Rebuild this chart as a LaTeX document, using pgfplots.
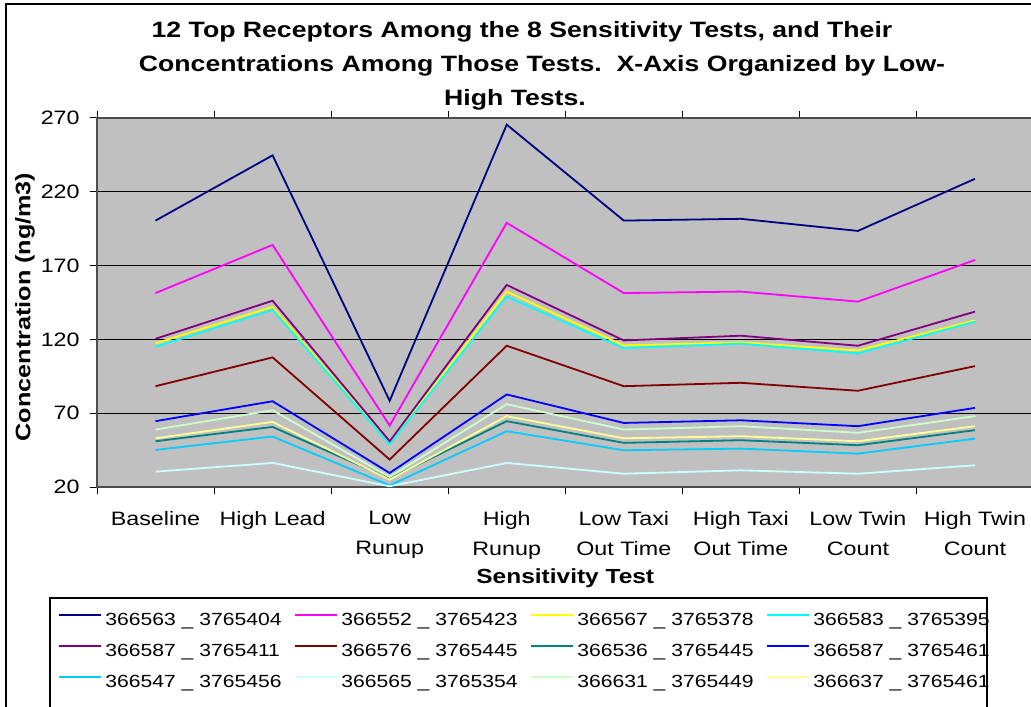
\documentclass[border=0pt]{standalone}
\usepackage{fontspec}
\setmainfont{Liberation Sans}[FakeStretch=1.2]
\usepackage{pgfplots}
\pgfplotsset{compat=1.18}
\usepackage{pgfplotstable}

\definecolor{c1}{HTML}{000080}
\definecolor{c2}{HTML}{FF00FF}
\definecolor{c3}{HTML}{FFFF00}
\definecolor{c4}{HTML}{00FFFF}
\definecolor{c5}{HTML}{800080}
\definecolor{c6}{HTML}{800000}
\definecolor{c7}{HTML}{008080}
\definecolor{c8}{HTML}{0000FF}
\definecolor{c9}{HTML}{00CCFF}
\definecolor{c10}{HTML}{CCFFFF}
\definecolor{c11}{HTML}{CCFFCC}
\definecolor{c12}{HTML}{FFFF99}
\definecolor{bggray}{HTML}{C0C0C0}

\pgfplotstableread{
x a b c d e f g h i j k l
0 200.5 151.4 117.3 115.0 120.4 88.3 51.0 64.6 45.1 30.4 58.9 53.0
1 244.7 184.0 142.0 140.0 146.2 107.8 60.7 78.1 54.2 36.3 72.0 64.1
2 78.4 61.6 49.4 49.0 51.0 38.6 25.7 29.5 21.1 20.5 26.8 25.0
3 265.5 199.0 152.4 149.0 156.9 115.7 64.6 82.7 57.8 36.3 76.1 68.0
4 200.5 151.4 115.9 114.1 119.3 88.3 49.9 63.4 44.9 29.0 58.9 53.0
5 201.7 152.4 118.0 117.1 122.5 90.6 51.7 65.2 46.0 31.3 61.2 54.4
6 193.5 145.6 112.5 110.5 115.7 85.2 48.3 61.2 42.6 29.0 56.7 51.0
7 228.8 173.8 132.9 132.0 138.8 101.9 58.5 73.6 52.8 34.7 68.0 61.2
}\data

\begin{document}
\begin{tikzpicture}
\useasboundingbox (0,0) rectangle (515.5pt,353pt);
\clip (0,0) rectangle (515.5pt,353pt);
\fill[white] (0,0) rectangle (515.5pt,353pt);
% outer chart frame
\draw[black, line width=0.9pt] (3pt,351pt) rectangle (530pt,-10pt);
% title lines
\node[anchor=base, font=\fontsize{11.1}{13}\selectfont\bfseries] at (261pt,334pt) {12 Top Receptors Among the 8 Sensitivity Tests, and Their};
\node[anchor=base, font=\fontsize{11.1}{13}\selectfont\bfseries] at (271pt,317pt) {Concentrations Among Those Tests.\ \ X-Axis Organized by Low-};
\node[anchor=base, font=\fontsize{11.1}{13}\selectfont\bfseries] at (257.5pt,300pt) {High Tests.};

\begin{axis}[
  at={(48.5pt,109.5pt)}, anchor=south west,
  scale only axis, width=468.25pt, height=184.5pt,
  xmin=-0.5, xmax=7.5, ymin=20, ymax=270,
  ytick={20,70,...,270},
  xtick={0,...,7},
  xticklabels={Baseline,High Lead,Low\\Runup,High\\Runup,Low Taxi\\Out Time,High Taxi\\Out Time,Low Twin\\Count,High Twin\\Count},
  minor xtick={-0.5,0.5,...,7.5},
  tick align=outside,
  major tick length=3.5pt, minor tick length=3.5pt,
  major x tick style={draw=none},
  tick style={black, line width=0.5pt},
  /pgf/number format/assume math mode=true,
  ymajorgrids, grid style={black, line width=0.5pt},
  axis background/.style={fill=bggray},
  axis line style={gray!60!black, line width=0.6pt},
  xticklabel style={align=center, anchor=north, font=\fontsize{9.7}{15}\selectfont, inner sep=0pt, yshift=-8.5pt},
  yticklabel style={font=\fontsize{9.7}{12}\selectfont, anchor=east, inner sep=0pt, xshift=-5pt},
  xlabel={Sensitivity Test},
  xlabel style={at={(axis description cs:0.5,-0.2466)}, anchor=center, font=\fontsize{10.2}{12}\selectfont\bfseries},
  ylabel={Concentration (ng/m3)},
  ylabel style={at={(axis description cs:-0.0769,0.4878)}, anchor=center, rotate=0, font=\fontsize{10.5}{12}\selectfont\bfseries},
  every axis plot/.append style={line width=0.9pt, mark=none},
  legend image code/.code={\draw[#1, line width=1.0pt] (0pt,0.25em) -- (21pt,0.25em);},
  legend columns=4,
  legend cell align=left,
  legend style={at={(axis description cs:-0.04164,-0.33604)}, anchor=north west,
    draw=none, fill=none, inner sep=0pt,
    font=\fontsize{8.8}{11}\selectfont,
    row sep=6.5pt, column sep=1.5pt,
    nodes={inner sep=0pt, text height=7pt, text depth=2pt}},
]
\addplot[c1] table[x=x,y=a]{\data}; \addlegendentry{\makebox[93pt][l]{366563 \_ 3765404}}
\addplot[c2] table[x=x,y=b]{\data}; \addlegendentry{\makebox[93pt][l]{366552 \_ 3765423}}
\addplot[c3] table[x=x,y=c]{\data}; \addlegendentry{\makebox[93pt][l]{366567 \_ 3765378}}
\addplot[c4] table[x=x,y=d]{\data}; \addlegendentry{\makebox[93pt][l]{366583 \_ 3765395}}
\addplot[c5] table[x=x,y=e]{\data}; \addlegendentry{\makebox[93pt][l]{366587 \_ 3765411}}
\addplot[c6] table[x=x,y=f]{\data}; \addlegendentry{\makebox[93pt][l]{366576 \_ 3765445}}
\addplot[c7] table[x=x,y=g]{\data}; \addlegendentry{\makebox[93pt][l]{366536 \_ 3765445}}
\addplot[c8] table[x=x,y=h]{\data}; \addlegendentry{\makebox[93pt][l]{366587 \_ 3765461}}
\addplot[c9] table[x=x,y=i]{\data}; \addlegendentry{\makebox[93pt][l]{366547 \_ 3765456}}
\addplot[c10] table[x=x,y=j]{\data}; \addlegendentry{\makebox[93pt][l]{366565 \_ 3765354}}
\addplot[c11] table[x=x,y=k]{\data}; \addlegendentry{\makebox[93pt][l]{366631 \_ 3765449}}
\addplot[c12] table[x=x,y=l]{\data}; \addlegendentry{\makebox[93pt][l]{366637 \_ 3765461}}
\end{axis}
% legend box
\draw[black, line width=0.6pt] (25pt,54pt) rectangle (493.5pt,-7pt);
\end{tikzpicture}
\end{document}
